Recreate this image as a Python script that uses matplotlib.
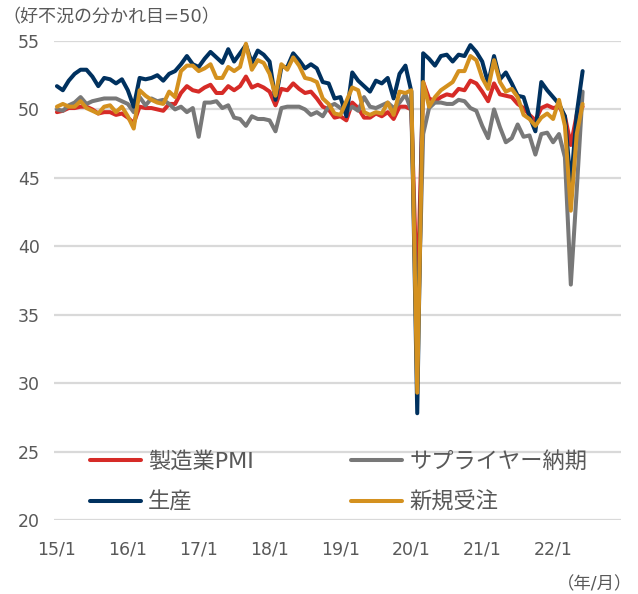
import matplotlib
matplotlib.use('Agg')
import matplotlib.pyplot as plt
import numpy as np

plt.rcParams['font.family'] = ['DejaVu Sans', 'Noto Sans CJK JP']

# monthly, 2015/1 - 2022/6
pmi = [49.8, 49.9, 50.1, 50.1, 50.2, 50.2, 50.0, 49.7, 49.8, 49.8, 49.6, 49.7,
       49.4, 49.0, 50.2, 50.1, 50.1, 50.0, 49.9, 50.4, 50.4, 51.2, 51.7, 51.4,
       51.3, 51.6, 51.8, 51.2, 51.2, 51.7, 51.4, 51.7, 52.4, 51.6, 51.8, 51.6,
       51.3, 50.3, 51.5, 51.4, 51.9, 51.5, 51.2, 51.3, 50.8, 50.2, 50.0, 49.4,
       49.5, 49.2, 50.5, 50.1, 49.4, 49.4, 49.7, 49.5, 49.8, 49.3, 50.2, 50.2,
       50.0, 35.7, 52.0, 50.8, 50.6, 50.9, 51.1, 51.0, 51.5, 51.4, 52.1, 51.9,
       51.3, 50.6, 51.9, 51.1, 51.0, 50.9, 50.4, 50.1, 49.6, 49.2, 50.1, 50.3,
       50.1, 50.2, 49.5, 47.4, 49.6, 50.2]

supplier = [50.0, 49.9, 50.3, 50.5, 50.9, 50.4, 50.6, 50.7, 50.8, 50.8, 50.8, 50.6,
            50.4, 49.8, 50.9, 50.3, 50.8, 50.6, 50.7, 50.4, 50.0, 50.2, 49.8, 50.1,
            48.0, 50.5, 50.5, 50.6, 50.1, 50.3, 49.4, 49.3, 48.8, 49.5, 49.3, 49.3,
            49.2, 48.4, 50.1, 50.2, 50.2, 50.2, 50.0, 49.6, 49.8, 49.5, 50.2, 50.4,
            50.1, 49.8, 50.2, 49.9, 50.9, 50.2, 50.1, 50.3, 50.5, 50.1, 50.5, 51.1,
            49.9, 32.1, 48.2, 50.1, 50.5, 50.5, 50.4, 50.4, 50.7, 50.6, 50.1, 49.9,
            48.8, 47.9, 50.0, 48.7, 47.6, 47.9, 48.9, 48.0, 48.1, 46.7, 48.2, 48.3,
            47.6, 48.2, 46.5, 37.2, 44.1, 51.3]

production = [51.7, 51.4, 52.1, 52.6, 52.9, 52.9, 52.4, 51.7, 52.3, 52.2, 51.9, 52.2,
              51.4, 50.2, 52.3, 52.2, 52.3, 52.5, 52.1, 52.6, 52.8, 53.3, 53.9, 53.3,
              53.1, 53.7, 54.2, 53.8, 53.4, 54.4, 53.5, 54.1, 54.7, 53.4, 54.3, 54.0,
              53.5, 50.7, 53.1, 53.1, 54.1, 53.6, 53.0, 53.3, 53.0, 52.0, 51.9, 50.8,
              50.9, 49.5, 52.7, 52.1, 51.7, 51.3, 52.1, 51.9, 52.3, 50.8, 52.6, 53.2,
              51.3, 27.8, 54.1, 53.7, 53.2, 53.9, 54.0, 53.5, 54.0, 53.9, 54.7, 54.2,
              53.5, 51.9, 53.9, 52.2, 52.7, 51.9, 51.0, 50.9, 49.5, 48.4, 52.0, 51.4,
              50.9, 50.4, 49.5, 44.4, 49.7, 52.8]

new_orders = [50.2, 50.4, 50.2, 50.2, 50.6, 50.1, 49.9, 49.7, 50.2, 50.3, 49.8, 50.2,
              49.5, 48.6, 51.4, 51.0, 50.7, 50.5, 50.4, 51.3, 50.9, 52.8, 53.2, 53.2,
              52.8, 53.0, 53.3, 52.3, 52.3, 53.1, 52.8, 53.1, 54.8, 52.9, 53.6, 53.4,
              52.6, 51.0, 53.3, 52.9, 53.8, 53.2, 52.3, 52.2, 52.0, 50.8, 50.4, 49.7,
              49.6, 50.6, 51.6, 51.4, 49.8, 49.6, 49.8, 49.7, 50.5, 49.6, 51.3, 51.2,
              51.4, 29.3, 52.0, 50.2, 50.9, 51.4, 51.7, 52.0, 52.8, 52.8, 53.9, 53.6,
              52.3, 51.5, 53.6, 52.0, 51.3, 51.5, 50.9, 49.6, 49.3, 48.8, 49.4, 49.7,
              49.3, 50.7, 48.8, 42.6, 48.2, 50.4]

tick_labels = ['15/1', '16/1', '17/1', '18/1', '19/1', '20/1', '21/1', '22/1']

x = np.arange(len(pmi))

fig = plt.figure(figsize=(6.38, 5.94), dpi=100)
ax = fig.add_axes([0.0846, 0.1246, 0.8888, 0.8064])

kw = dict(lw=2.9, solid_joinstyle='round', solid_capstyle='round')
l_pmi, = ax.plot(x, pmi, color='#d62b27', label='製造業PMI', **kw)
l_sup, = ax.plot(x, supplier, color='#787878', label='サプライヤー納期', **kw)
l_prod, = ax.plot(x, production, color='#00315f', label='生産', **kw)
l_new, = ax.plot(x, new_orders, color='#d4911f', label='新規受注', **kw)

ax.set_xlim(-0.5, 95.5)
ax.set_ylim(20, 55)
ax.set_yticks(np.arange(20, 56, 5))
ax.set_xticks(np.arange(0, 96, 12)[:len(tick_labels)])
ax.set_xticklabels(tick_labels)
ax.grid(axis='y', color='#d9d9d9', lw=1.6)
ax.set_axisbelow(True)
for s in ax.spines.values():
    s.set_visible(False)
ax.tick_params(axis='both', length=0, labelsize=12.5, labelcolor='#595959')
ax.tick_params(axis='y', pad=10)
ax.tick_params(axis='x', pad=15)

ax.legend(handles=[l_pmi, l_prod, l_sup, l_new], ncol=2, frameon=False,
          loc='center left', bbox_to_anchor=(90 / 638, 1 - 482 / 594),
          bbox_transform=fig.transFigure, borderpad=0, borderaxespad=0,
          fontsize=16, handlelength=2.3, handletextpad=0.3,
          columnspacing=4.4, labelspacing=0.9, labelcolor='#595959')

fig.text(2 / 638, 1 - 17 / 594, '（好不況の分かれ目=50）', fontsize=13,
         color='#595959', va='center', ha='left')
fig.text(632 / 638, 1 - 584 / 594, '（年/月）', fontsize=12.5,
         color='#595959', va='center', ha='right')

fig.savefig('out.png', dpi=100)
